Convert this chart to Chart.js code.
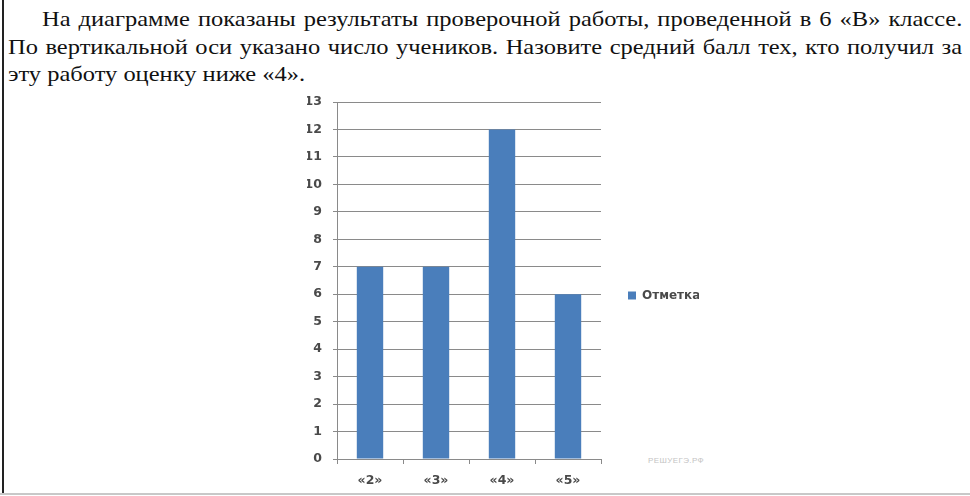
<!DOCTYPE html>
<html>
<head>
<meta charset="utf-8">
<script src="https://cdn.jsdelivr.net/npm/chart.js@4.4.1/dist/chart.umd.min.js"></script>
<style>
  html, body { margin:0; padding:0; background:#fff; }
  body { width:970px; height:496px; position:relative; overflow:hidden; }
  #frameL { position:absolute; left:2px; top:0; width:2px; height:494px; background:#222; }
  #frameB { position:absolute; left:0; top:493px; width:970px; height:2px; background:#c8c8c8; }
  .ln { position:absolute; left:8px; font-family:"Liberation Serif","Times New Roman",serif; font-size:21px; line-height:27.5px; color:#111; white-space:nowrap; transform-origin:0 0; transform:scaleX(1.165); }
  .j { text-align:justify; text-align-last:justify; white-space:normal; }
  #wm { position:absolute; left:648px; top:456px; font-family:"Liberation Sans",Arial,sans-serif; font-size:8px; color:#c4c4c4; letter-spacing:0.4px; }
  #c { position:absolute; left:0; top:0; }
</style>
</head>
<body>
<div id="frameL"></div>
<div id="frameB"></div>
<div class="ln j" style="top:6px; left:42px; width:790px;">На диаграмме показаны результаты проверочной работы, проведенной в 6 «В» классе.</div>
<div class="ln j" style="top:33.5px; width:819px;">По вертикальной оси указано число учеников. Назовите средний балл тех, кто получил за</div>
<div class="ln" style="top:61px;">эту работу оценку ниже «4».</div>
<div id="wm">РЕШУЕГЭ.РФ</div>
<canvas id="c" width="970" height="496"></canvas>
<script>
const categories = ["«2»", "«3»", "«4»", "«5»"];
const seriesName = "Отметка";
const values = [7, 7, 12, 6];
const yTicks = [0,1,2,3,4,5,6,7,8,9,10,11,12,13];

const tickFont = { family: "'DejaVu Sans', sans-serif", size: 12.5, weight: 'bold' };
new Chart(document.getElementById('c'), {
  type: 'bar',
  data: {
    labels: categories,
    datasets: [{
      label: seriesName,
      data: values,
      backgroundColor: '#4a7ebb',
      borderWidth: 0,
      categoryPercentage: 1.0,
      barPercentage: 0.4
    }]
  },
  options: {
    responsive: false,
    animation: false,
    devicePixelRatio: 1,
    layout: { padding: { left: 307, top: 102, right: 271, bottom: 7 } },
    plugins: {
      tooltip: { enabled: false },
      legend: {
        position: 'right',
        align: 'center',
        labels: {
          boxWidth: 8, boxHeight: 8, padding: 27,
          color: '#4a4a4a',
          font: { family: "'DejaVu Sans', sans-serif", size: 12, weight: 'bold' }
        }
      }
    },
    scales: {
      x: {
        offset: true,
        grid: { offset: true, drawOnChartArea: false, drawTicks: true, tickLength: 5, color: '#8a8a8a' },
        border: { color: '#8a8a8a', width: 1 },
        ticks: { color: '#4a4a4a', font: tickFont, padding: 9 },
        afterFit: s => { s.height = 30; }
      },
      y: {
        min: 0, max: 13,
        afterBuildTicks: s => { s.ticks = yTicks.map(v => ({ value: v })); },
        grid: { color: '#8a8a8a', drawTicks: true, tickLength: 4 },
        border: { color: '#8a8a8a', width: 1 },
        ticks: { color: '#4a4a4a', font: tickFont, padding: 11 },
        afterFit: s => { s.width = 30; }
      }
    }
  }
});
</script>
</body>
</html>
